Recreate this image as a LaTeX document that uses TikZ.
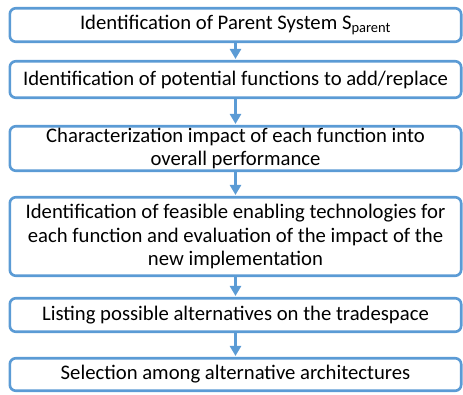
\documentclass[tikz,border=0pt]{standalone}
\usepackage{fontspec}
\setmainfont{Carlito}
\usetikzlibrary{arrows.meta}
\definecolor{boxblue}{HTML}{5B9BD5}
\tikzset{
  stepbox/.style={draw=boxblue, line width=2.6pt, rounded corners=6pt, fill=white,
    minimum width=451.4pt, align=center, inner sep=0pt,
    font=\fontsize{20.7}{23.3}\selectfont},
  flow/.style={draw=boxblue, line width=2.8pt, -{Triangle[length=10pt,width=11pt]}, shorten >=1pt}
}
\begin{document}
\begin{tikzpicture}[x=1pt,y=-1pt]
\useasboundingbox (0,0) rectangle (463,394);
\node[stepbox, minimum height=33.5pt] (b1) at (235.5,25) {Identification of Parent System S\textsubscript{parent}};
\node[stepbox, minimum height=36.5pt] (b2) at (235.5,79.5) {Identification of potential functions to add/replace};
\node[stepbox, minimum height=44.5pt] (b3) at (235.5,148.5) {Characterization impact of each function into\\overall performance};
\node[stepbox, minimum height=78.5pt] (b4) at (235.5,236.5) {Identification of feasible enabling technologies for\\each function and evaluation of the impact of the\\new implementation};
\node[stepbox, minimum height=33.5pt] (b5) at (235.5,315) {Listing possible alternatives on the tradespace};
\node[stepbox, minimum height=32.5pt] (b6) at (235.5,374.5) {Selection among alternative architectures};
\draw[flow] (b1) -- (b2);
\draw[flow] (b2) -- (b3);
\draw[flow] (b3) -- (b4);
\draw[flow] (b4) -- (b5);
\draw[flow] (b5) -- (b6);
\end{tikzpicture}
\end{document}
